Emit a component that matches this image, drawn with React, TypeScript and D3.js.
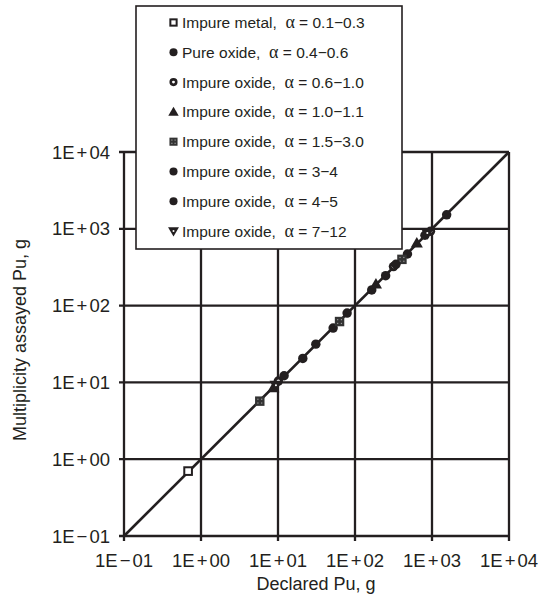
import React from "react";
import * as d3 from "d3";

// Declared vs. multiplicity-assayed Pu mass [declared g, assayed g] by material class
const impureMetal01 = [[0.68, 0.7]];
const pureOxide04 = [[21, 20.5], [52, 51], [165, 160], [250, 245], [480, 470]];
const impureOxide06 = [[10.1, 10.4], [316, 322], [955, 930]];
const impureOxide10 = [[8.7, 8.5], [187, 190], [635, 650]];
const impureOxide15 = [[5.8, 5.7], [63, 62], [407, 400]];
const impureOxide3 = [[12, 12.2], [79, 80], [810, 825]];
const impureOxide4 = [[31, 31.5], [340, 345], [1550, 1520]];
const impureOxide7 = [[9.4, 9.2], [870, 880]];

const legendNames = [
  "Impure metal,",
  "Pure oxide,",
  "Impure oxide,",
  "Impure oxide,",
  "Impure oxide,",
  "Impure oxide,",
  "Impure oxide,",
  "Impure oxide,",
];
const legendRanges = [
  "0.1\u22120.3",
  "0.4\u22120.6",
  "0.6\u22121.0",
  "1.0\u22121.1",
  "1.5\u22123.0",
  "3\u22124",
  "4\u22125",
  "7\u221212",
];
const markerKinds = ["openSquare", "dot", "ring", "triangle", "dottedSquare", "dot", "dot", "holedDown"];
const seriesData = [
  impureMetal01,
  pureOxide04,
  impureOxide06,
  impureOxide10,
  impureOxide15,
  impureOxide3,
  impureOxide4,
  impureOxide7,
];

const tickExponents = [-1, 0, 1, 2, 3, 4];

const INK = "#231f20";
const FONT = "'Liberation Sans', Arial, Helvetica, sans-serif";

function TickText({ e }: { e: number }) {
  return (
    <>
      {"1E"}
      <tspan dx={2}>{e < 0 ? "\u2212" : "+"}</tspan>
      <tspan dx={2}>{"0" + Math.abs(e)}</tspan>
    </>
  );
}

function Marker({ kind, x, y, s = 1 }: { kind: string; x: number; y: number; s?: number }) {
  const r = 4.5 * s;
  switch (kind) {
    case "openSquare":
      return (
        <rect x={x - r + 0.9} y={y - r + 0.9} width={2 * r - 1.8} height={2 * r - 1.8}
          fill="#fff" stroke={INK} strokeWidth={2} />
      );
    case "dot":
      return <circle cx={x} cy={y} r={r} fill={INK} />;
    case "ring":
      return (
        <g>
          <circle cx={x} cy={y} r={r} fill={INK} />
          <circle cx={x} cy={y} r={r * 0.36} fill="#fff" />
        </g>
      );
    case "triangle":
      return (
        <path transform={`translate(${x},${y + 0.8})`}
          d={d3.symbol(d3.symbolTriangle, 58 * s * s)() || ""} fill={INK} />
      );
    case "dottedSquare":
      return (
        <g>
          <rect x={x - r} y={y - r} width={2 * r} height={2 * r} fill="#333" />
          {[[-1, -1], [1, -1], [-1, 1], [1, 1]].map(([dx, dy], i) => (
            <rect key={i} x={x + dx * r * 0.4 - 0.6} y={y + dy * r * 0.4 - 0.6}
              width={1.2} height={1.2} fill="#999" />
          ))}
        </g>
      );
    case "holedDown":
      return (
        <g transform={`translate(${x},${y - 0.8}) rotate(180)`}>
          <path d={d3.symbol(d3.symbolTriangle, 64 * s * s)() || ""} fill={INK} />
          <circle cx={0} cy={-0.8} r={1.0} fill="#fff" />
        </g>
      );
    default:
      return null;
  }
}

export default function App() {
  const W = 543;
  const H = 605;
  const x = d3.scaleLog().domain([0.1, 1e4]).range([124, 509]);
  const y = d3.scaleLog().domain([0.1, 1e4]).range([536, 152]);
  const ticks = tickExponents.map((e) => Math.pow(10, e));

  const legendX = 136;
  const legendY = 6;
  const legendW = 266;
  const legendH = 243;
  const rowY = (i: number) => 22.5 + i * 29.8;

  return (
    <svg width={W} height={H} style={{ display: "block", position: "absolute", left: 0, top: 0 }}
      fontFamily={FONT}>
      <rect width={W} height={H} fill="#fff" />
      {/* grid */}
      {ticks.map((t, i) => (
        <line key={"v" + i} x1={x(t)} x2={x(t)} y1={y(1e4)} y2={y(0.1) + 5}
          stroke={INK} strokeWidth={2.3} />
      ))}
      {ticks.map((t, i) => (
        <line key={"h" + i} x1={x(0.1) - 5} x2={x(1e4)} y1={y(t)} y2={y(t)}
          stroke={INK} strokeWidth={2.3} />
      ))}
      {/* 1:1 line */}
      <line x1={x(0.1)} y1={y(0.1)} x2={x(1e4)} y2={y(1e4)} stroke={INK} strokeWidth={2.6} />
      {/* data points */}
      {seriesData.map((ser, si) =>
        ser.map((p, pi) => (
          <Marker key={si + "-" + pi} kind={markerKinds[si]} x={x(p[0])} y={y(p[1])} s={1.05} />
        ))
      )}
      {/* tick labels */}
      {tickExponents.map((e, i) => (
        <text key={"yl" + i} x={110} y={y(ticks[i]) + 6.5} textAnchor="end" fontSize={18.5} fill={INK}>
          <TickText e={e} />
        </text>
      ))}
      {tickExponents.map((e, i) => (
        <text key={"xl" + i} x={x(ticks[i])} y={567} textAnchor="middle" fontSize={18.5} fill={INK}>
          <TickText e={e} />
        </text>
      ))}
      {/* axis titles */}
      <text x={316} y={590} textAnchor="middle" fontSize={18} fill={INK}>
        Declared Pu, g
      </text>
      <text transform="translate(26,340) rotate(-90)" textAnchor="middle" fontSize={18} fill={INK}>
        Multiplicity assayed Pu, g
      </text>
      {/* legend */}
      <rect x={legendX} y={legendY} width={legendW} height={legendH} fill="#fff" stroke={INK} strokeWidth={1.6} />
      {legendNames.map((name, i) => (
        <g key={"lg" + i}>
          <Marker kind={markerKinds[i]} x={173.5} y={rowY(i)} s={0.9} />
          <text x={182} y={rowY(i) + 5.5} fontSize={15.5} fill={INK} style={{ whiteSpace: "pre" }}>
            {name + "  "}
            <tspan fontFamily="'Liberation Serif', 'Times New Roman', serif" fontSize={18}>α</tspan>
            {" = " + legendRanges[i]}
          </text>
        </g>
      ))}
    </svg>
  );
}
